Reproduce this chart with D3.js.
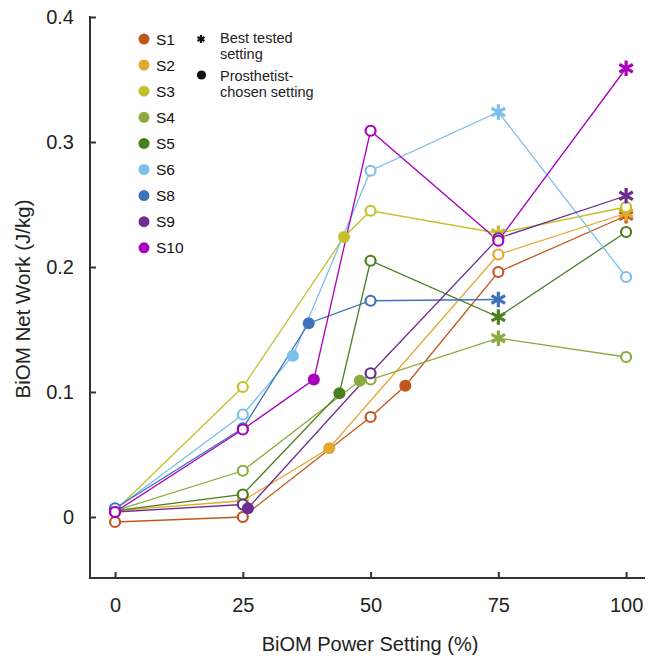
<!DOCTYPE html>
<html lang="en">
<head>
    <meta charset="UTF-8">
    <title>BiOM Net Work vs Power Setting</title>
    <script src="https://d3js.org/d3.v7.min.js"></script>
    <style>
        body { margin: 0; background: white; font-family: Arial, "Liberation Sans", sans-serif; }
        svg { display: block; }
    </style>
</head>
<body>
    <svg width="648" height="659"></svg>

    <script>
        // subjects and colours
        const subjects = ["S1", "S2", "S3", "S4", "S5", "S6", "S8", "S9", "S10"];
        const colors = ["#c2561f", "#e2a731", "#c2c12b", "#8bab3f", "#4a7f1d", "#7bbfeb", "#3e72ba", "#6b2e8e", "#a900bd"];

        // each point: [power setting %, net work J/kg, kind] kind: o = tested, f = prosthetist-chosen, s = best tested
        const S1 = [[0, -0.004, "o"], [25, 0.000, "o"], [50, 0.080, "o"], [56.8, 0.105, "f"], [75, 0.196, "o"], [100, 0.241, "s"]];
        const S2 = [[0, 0.005, "o"], [25, 0.013, "o"], [41.9, 0.055, "f"], [75, 0.210, "o"], [100, 0.243, "s"]];
        const S3 = [[0, 0.005, "o"], [25, 0.104, "o"], [44.8, 0.224, "f"], [50, 0.245, "o"], [75, 0.227, "s"], [100, 0.248, "o"]];
        const S4 = [[0, 0.005, "o"], [25, 0.037, "o"], [47.9, 0.109, "f"], [50, 0.110, "o"], [75, 0.143, "s"], [100, 0.128, "o"]];
        const S5 = [[0, 0.005, "o"], [25, 0.018, "o"], [43.9, 0.099, "f"], [50, 0.205, "o"], [75, 0.160, "s"], [100, 0.228, "o"]];
        const S6 = [[0, 0.006, "o"], [25, 0.082, "o"], [34.8, 0.129, "f"], [50, 0.277, "o"], [75, 0.324, "s"], [100, 0.192, "o"]];
        const S8 = [[0, 0.007, "o"], [25, 0.071, "o"], [37.9, 0.155, "f"], [50, 0.173, "o"], [75, 0.174, "s"]];
        const S9 = [[0, 0.004, "o"], [25, 0.010, "o"], [26, 0.007, "f"], [50, 0.115, "o"], [75, 0.223, "o"], [100, 0.257, "s"]];
        const S10 = [[0, 0.004, "o"], [25, 0.070, "o"], [38.9, 0.110, "f"], [50, 0.309, "o"], [75, 0.221, "o"], [100, 0.359, "s"]];
        const seriesData = [S1, S2, S3, S4, S5, S6, S8, S9, S10];

        const xTicks = [0, 25, 50, 75, 100];
        const yTicks = [0, 0.1, 0.2, 0.3, 0.4];

        const svg = d3.select("svg");
        const plotLeft = 90, plotRight = 645, plotTop = 16, plotBottom = 578;

        const x = d3.scaleLinear().domain([-4.9, 103.7]).range([plotLeft, plotRight]);
        const y = d3.scaleLinear().domain([-0.0488, 0.4]).range([plotBottom, 17]);

        // axes (ticks pointing inward)
        const xAxis = svg.append("g").attr("transform", `translate(0,${plotBottom})`)
            .call(d3.axisBottom(x).tickValues(xTicks).tickSizeInner(-6).tickSizeOuter(0).tickPadding(20));
        const yAxis = svg.append("g").attr("transform", `translate(${plotLeft},0)`)
            .call(d3.axisLeft(y).tickValues(yTicks).tickSizeInner(-6).tickSizeOuter(0).tickPadding(16)
                .tickFormat(d => d === 0 ? "0" : d3.format(".1f")(d)));
        [xAxis, yAxis].forEach(a => {
            a.select(".domain").remove();
            a.selectAll("line").attr("stroke", "#333").attr("stroke-width", 2);
            a.selectAll("text").attr("font-size", "20px").attr("fill", "#222")
                .attr("font-family", "Arial, 'Liberation Sans', sans-serif");
        });
        svg.append("path")
            .attr("d", `M${plotLeft},${plotTop}V${plotBottom}H${plotRight}`)
            .attr("fill", "none").attr("stroke", "#333").attr("stroke-width", 2);

        svg.append("text").attr("x", 370).attr("y", 651).attr("text-anchor", "middle")
            .attr("font-size", "20px").attr("fill", "#222").text("BiOM Power Setting (%)");
        svg.append("text").attr("transform", "translate(30,299) rotate(-90)").attr("text-anchor", "middle")
            .attr("font-size", "20.5px").attr("fill", "#222").text("BiOM Net Work (J/kg)");

        // lines
        const line = d3.line().x(d => x(d[0])).y(d => y(d[1]));
        seriesData.forEach((s, i) => {
            svg.append("path").datum(s).attr("d", line)
                .attr("fill", "none").attr("stroke", colors[i]).attr("stroke-width", 1.3);
        });

        // markers
        const star = d3.symbol().type(d3.symbolAsterisk).size(170);
        seriesData.forEach((s, i) => {
            const g = svg.append("g");
            g.selectAll("circle.open").data(s.filter(d => d[2] === "o")).enter().append("circle")
                .attr("cx", d => x(d[0])).attr("cy", d => y(d[1])).attr("r", 5)
                .attr("fill", "white").attr("stroke", colors[i]).attr("stroke-width", 2.2);
            g.selectAll("circle.fill").data(s.filter(d => d[2] === "f")).enter().append("circle")
                .attr("cx", d => x(d[0])).attr("cy", d => y(d[1])).attr("r", 6)
                .attr("fill", colors[i]);
            g.selectAll("path.star").data(s.filter(d => d[2] === "s")).enter().append("path")
                .attr("d", star).attr("transform", d => `translate(${x(d[0])},${y(d[1])})`)
                .attr("fill", "none").attr("stroke", colors[i]).attr("stroke-width", 3.2);
        });

        // legend
        const legend = svg.append("g");
        subjects.forEach((name, i) => {
            legend.append("circle").attr("cx", 144).attr("cy", 39 + i * 26.1).attr("r", 5.5).attr("fill", colors[i]);
            legend.append("text").attr("x", 156).attr("y", 44.5 + i * 26.1)
                .attr("font-size", "15.5px").attr("fill", "#111").text(name);
        });
        legend.append("path").attr("d", d3.symbol().type(d3.symbolAsterisk).size(45))
            .attr("transform", "translate(201,39)").attr("fill", "none").attr("stroke", "#111").attr("stroke-width", 2.2);
        legend.append("circle").attr("cx", 201.5).attr("cy", 75).attr("r", 4.6).attr("fill", "#111");
        [["Best tested", 43], ["setting", 59], ["Prosthetist-", 80.5], ["chosen setting", 96.5]].forEach(t => {
            legend.append("text").attr("x", 220).attr("y", t[1]).attr("font-size", "14.5px").attr("fill", "#222").text(t[0]);
        });
    </script>
</body>
</html>
